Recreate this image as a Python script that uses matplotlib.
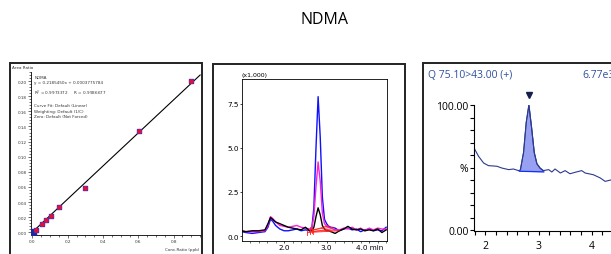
import matplotlib
matplotlib.use("Agg")
import matplotlib.pyplot as plt
from matplotlib.patches import Rectangle
from matplotlib.ticker import MultipleLocator

W, H = 611, 255

# ---------------------------------------------------------------------------
# data
# ---------------------------------------------------------------------------
# calibration curve
cal_conc = [0.005, 0.019, 0.054, 0.077, 0.103, 0.152, 0.30, 0.605, 0.90]
cal_ratio = [0.001, 0.0035, 0.011, 0.016, 0.021, 0.034, 0.058, 0.134, 0.200]
fit_slope = 0.2185450
fit_icpt = 0.0003775784
fit_text = [
    "NDMA",
    "y = 0.2185450x + 0.0003775784",
    "R$^2$ = 0.9973372     R = 0.9986677",
    "",
    "Curve Fit: Default (Linear)",
    "Weighting: Default (1/C)",
    "Zero: Default (Not Forced)",
]

# overlaid chromatograms (x1,000)
t_blue = [1.00, 1.10, 1.25, 1.40, 1.55, 1.62, 1.68, 1.73, 1.80, 1.90, 2.00, 2.10, 2.20, 2.30,
          2.40, 2.50, 2.60, 2.65, 2.70, 2.75, 2.80, 2.85, 2.90, 2.95, 3.00, 3.05, 3.10, 3.20,
          3.30, 3.40, 3.50, 3.60, 3.70, 3.80, 3.90, 4.00, 4.10, 4.20, 4.30, 4.40]
i_blue = [0.25, 0.20, 0.15, 0.20, 0.25, 0.50, 0.95, 0.85, 0.60, 0.40, 0.30, 0.30, 0.35, 0.40,
          0.30, 0.35, 0.30, 0.40, 1.60, 5.00, 7.90, 5.60, 2.20, 0.95, 0.70, 0.55, 0.50, 0.45,
          0.30, 0.40, 0.45, 0.35, 0.40, 0.25, 0.35, 0.40, 0.30, 0.35, 0.30, 0.50]
t_mag = [1.00, 1.10, 1.25, 1.40, 1.55, 1.62, 1.68, 1.73, 1.80, 1.90, 2.00, 2.10, 2.20, 2.30,
         2.40, 2.50, 2.60, 2.65, 2.70, 2.75, 2.80, 2.85, 2.90, 2.95, 3.00, 3.05, 3.10, 3.20,
         3.30, 3.40, 3.50, 3.60, 3.70, 3.80, 3.90, 4.00, 4.10, 4.20, 4.30, 4.40]
i_mag = [0.30, 0.25, 0.25, 0.25, 0.30, 0.60, 1.10, 1.00, 0.80, 0.60, 0.55, 0.50, 0.55, 0.60,
         0.50, 0.45, 0.40, 0.45, 1.10, 2.80, 4.20, 3.10, 1.30, 0.70, 0.55, 0.50, 0.45, 0.35,
         0.35, 0.45, 0.40, 0.50, 0.35, 0.45, 0.30, 0.45, 0.35, 0.45, 0.40, 0.40]
t_blk = [1.00, 1.10, 1.25, 1.40, 1.55, 1.62, 1.68, 1.73, 1.80, 1.90, 2.00, 2.10, 2.20, 2.30,
         2.40, 2.50, 2.60, 2.65, 2.70, 2.75, 2.80, 2.85, 2.90, 2.95, 3.00, 3.05, 3.10, 3.20,
         3.30, 3.40, 3.50, 3.60, 3.70, 3.80, 3.90, 4.00, 4.10, 4.20, 4.30, 4.40]
i_blk = [0.30, 0.25, 0.30, 0.30, 0.35, 0.70, 1.05, 0.95, 0.80, 0.70, 0.60, 0.50, 0.45, 0.40,
         0.35, 0.50, 0.30, 0.30, 0.50, 1.10, 1.60, 1.20, 0.60, 0.40, 0.30, 0.30, 0.25, 0.15,
         0.30, 0.40, 0.55, 0.40, 0.35, 0.40, 0.30, 0.35, 0.30, 0.40, 0.20, 0.35]
# integration baselines (red)
red_x0 = [2.55, 2.60, 2.65, 2.60, 2.67]
red_y0 = [0.20, 0.25, 0.30, 0.35, 0.25]
red_x1 = [3.30, 3.25, 3.05, 3.15, 3.10]
red_y1 = [0.30, 0.35, 0.60, 0.50, 0.40]

# single-channel chromatogram (%)
t_sc = [1.79, 1.875, 1.97, 2.06, 2.22, 2.31, 2.44, 2.53, 2.625, 2.66, 2.72, 2.77, 2.82,
        2.87, 2.92, 2.97, 3.03, 3.09, 3.19, 3.25, 3.31, 3.41, 3.50, 3.59, 3.69, 3.81,
        3.875, 4.03, 4.16, 4.25, 4.375]
i_sc = [65.7, 59.0, 53.6, 51.5, 51.0, 49.6, 48.3, 48.8, 47.5, 48.0, 62.0, 86.0, 100.0,
        82.0, 62.0, 53.0, 49.5, 47.5, 48.3, 46.4, 48.8, 45.6, 47.5, 45.0, 46.2, 47.5,
        45.6, 44.2, 41.6, 38.9, 40.2]
peak_start, peak_end = 2.64, 3.10
peak_base = [47.0, 46.5]
sc_header = "Q 75.10>43.00 (+)"
sc_max = "6.77e3"


def px(x0, y0, x1, y1):
    """pixel box (top-left origin) -> figure fraction rect"""
    return [x0 / W, 1 - y1 / H, (x1 - x0) / W, (y1 - y0) / H]


fig = plt.figure(figsize=(W / 100, H / 100), dpi=100)
fig.text(325 / W, 1 - 20 / H, "NDMA", ha="center", va="center",
         fontsize=11.5, family="Open Sans")

# outer frames
for (x0, y0, x1, y1) in [(10, 64, 202, 262), (213, 65, 405, 262), (423, 64, 620, 262)]:
    fig.patches.append(Rectangle((x0 / W, 1 - y1 / H), (x1 - x0) / W, (y1 - y0) / H,
                                 transform=fig.transFigure, fill=False,
                                 edgecolor="#222222", linewidth=1.4))

# ---------------------------------------------------------------------------
# panel 1: calibration curve
# ---------------------------------------------------------------------------
ax1 = fig.add_axes(px(31, 73, 201, 236))
ax1.set_xlim(-0.008, 0.955)
ax1.set_ylim(-0.0035, 0.212)
xs = [0.0, 0.95]
ax1.plot(xs, [fit_slope * x + fit_icpt for x in xs], color="black", lw=0.8)
ax1.scatter(cal_conc[:1], cal_ratio[:1], marker="s", s=22, color="#1a2a9a", zorder=3)
ax1.scatter(cal_conc[1:], cal_ratio[1:], marker="s", s=10, color="#2a3ad0", zorder=3)
ax1.scatter(cal_conc[1:], cal_ratio[1:], marker="o", s=6, color="#e0103a", zorder=4)
for s in ("top", "right"):
    ax1.spines[s].set_visible(False)
for s in ("left", "bottom"):
    ax1.spines[s].set_linewidth(0.6)
ax1.yaxis.set_major_locator(MultipleLocator(0.02))
ax1.yaxis.set_minor_locator(MultipleLocator(0.004))
ax1.xaxis.set_major_locator(MultipleLocator(0.2))
ax1.xaxis.set_minor_locator(MultipleLocator(0.05))
ax1.yaxis.set_major_formatter(lambda v, p: f"{v:.2f}")
ax1.xaxis.set_major_formatter(lambda v, p: f"{v:.1f}")
ax1.tick_params(labelsize=3, length=2, width=0.5, pad=1, colors="#333333")
ax1.tick_params(which="minor", length=1.2, width=0.4)
ax1.text(0.01, 0.208, "\n".join(fit_text), fontsize=3, va="top", ha="left",
         color="#333333", linespacing=1.45)
fig.text(12 / W, 1 - 68 / H, "Area Ratio", fontsize=3, va="center", color="#333333")
fig.text(199 / W, 1 - 250 / H, "Conc.Ratio (ppb)", fontsize=3, ha="right",
         va="center", color="#333333")

# ---------------------------------------------------------------------------
# panel 2: overlaid chromatograms
# ---------------------------------------------------------------------------
ax2 = fig.add_axes(px(242, 80, 387, 242))
ax2.set_xlim(1.01, 4.42)
ax2.set_ylim(-0.28, 8.9)
for tx, iy, c in [(t_blue, i_blue, "#1010ff"), (t_mag, i_mag, "#ff20d0"),
                  (t_blk, i_blk, "black")]:
    ax2.plot(tx, iy, color=c, lw=1.0)
for a, b, c, d in zip(red_x0, red_y0, red_x1, red_y1):
    ax2.plot([a, c], [b, d], color="#ff2020", lw=0.6)
    ax2.plot([a, a], [b - 0.15, b + 0.15], color="#ff2020", lw=0.6)
for s in ax2.spines.values():
    s.set_linewidth(0.6)
ax2.yaxis.set_major_locator(MultipleLocator(2.5))
ax2.xaxis.set_major_locator(MultipleLocator(1.0))
ax2.xaxis.set_minor_locator(MultipleLocator(0.2))
ax2.yaxis.set_major_formatter(lambda v, p: f"{v:.1f}")
ax2.xaxis.set_major_formatter(lambda v, p: f"{v:.1f}" if v < 3.5 else f"{v:.1f} min")
ax2.tick_params(labelsize=5.2, length=1.5, width=0.5, pad=1)
ax2.tick_params(which="minor", length=1.2, width=0.4)
ax2.text(0.0, 1.01, "(x1,000)", transform=ax2.transAxes, fontsize=4.5, va="bottom")

# ---------------------------------------------------------------------------
# panel 3: single channel
# ---------------------------------------------------------------------------
ax3 = fig.add_axes(px(474, 106, 611, 231))
ax3.set_xlim(1.79, 4.36)
ax3.set_ylim(0, 100)
ax3.plot(t_sc, i_sc, color="#2a3a90", lw=0.8)
pk_t = [t for t in t_sc if peak_start <= t <= peak_end]
pk_i = [i for t, i in zip(t_sc, i_sc) if peak_start <= t <= peak_end]
base = [peak_base[0] + (peak_base[1] - peak_base[0]) * (t - peak_start) / (peak_end - peak_start)
        for t in pk_t]
ax3.fill_between(pk_t, base, pk_i, color="#98a0f2", lw=0)
ax3.plot(pk_t, pk_i, color="#2a3a90", lw=0.8)
ax3.plot([peak_start, peak_end], peak_base, color="#1030ff", lw=0.9)
ax3.plot([2.82], [108], marker="v", color="#14204a", ms=5, clip_on=False)
for s in ("top", "right"):
    ax3.spines[s].set_visible(False)
ax3.spines["left"].set_linewidth(0.8)
ax3.spines["bottom"].set_linewidth(0.8)
ax3.spines["bottom"].set_position(("outward", 1))
ax3.set_yticks([0, 50, 100])
ax3.set_yticklabels(["0.00", "%", "100.00"])
ax3.yaxis.set_minor_locator(MultipleLocator(10))
ax3.xaxis.set_major_locator(MultipleLocator(1))
ax3.xaxis.set_minor_locator(MultipleLocator(0.2))
ax3.tick_params(labelsize=7.5, length=3, width=0.8, pad=1)
ax3.tick_params(axis="x", pad=3)
ax3.tick_params(which="minor", length=3, width=0.8)
for lab in ax3.get_xticklabels() + ax3.get_yticklabels():
    lab.set_family("Open Sans")
fig.text(428 / W, 1 - 75 / H, sc_header, fontsize=7.5, color="#2f4f9f",
         va="center", family="Open Sans")
fig.text(582 / W, 1 - 75 / H, sc_max, fontsize=7.5, color="#2f4f9f",
         va="center", family="Open Sans")

fig.savefig("out.png", dpi=100)
